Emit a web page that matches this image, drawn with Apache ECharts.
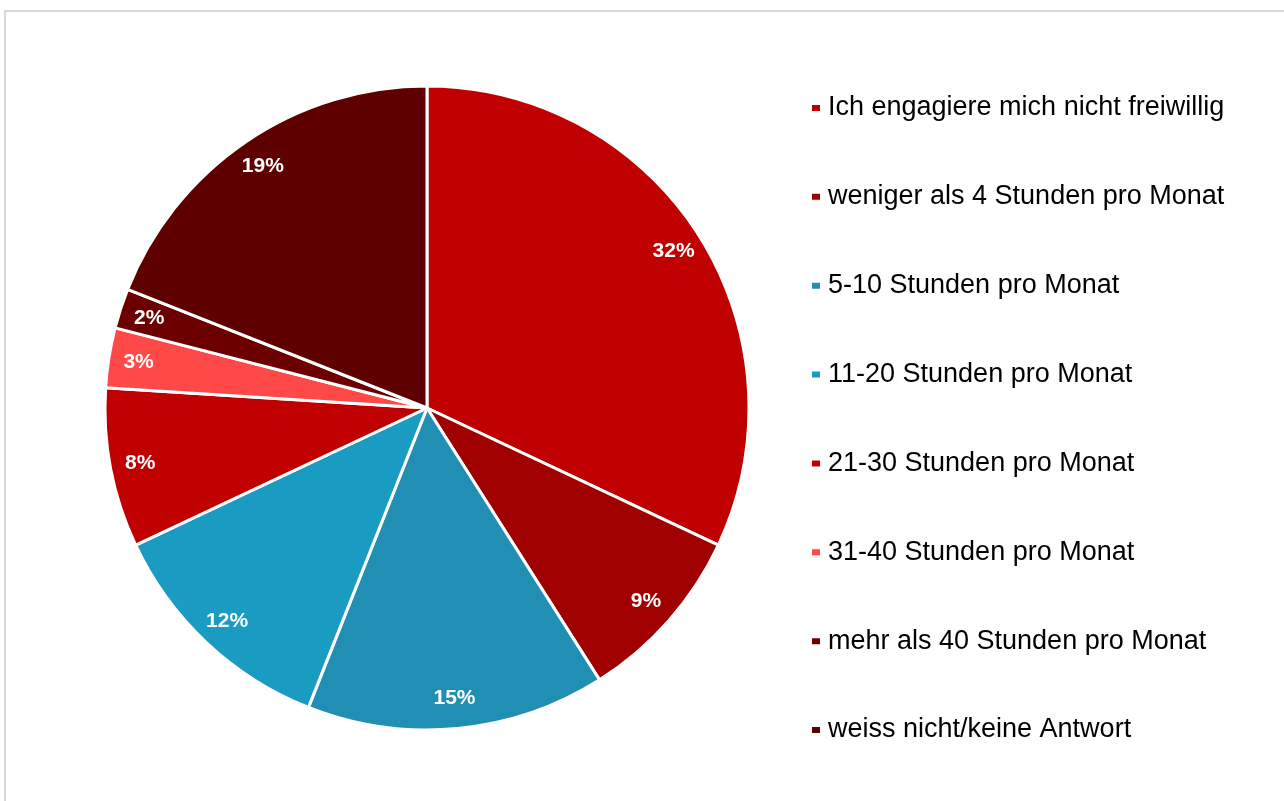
<!DOCTYPE html>
<html>
<head>
<meta charset="utf-8">
<script src="https://cdn.jsdelivr.net/npm/echarts@6/dist/echarts.min.js"></script>
<style>
  html, body { margin: 0; padding: 0; background: #fff; }
  #chart { width: 1284px; height: 801px; }
</style>
</head>
<body>
<div id="chart"></div>
<script>
// Time spent on volunteering per month (share of respondents, %)
const categories = [
  'Ich engagiere mich nicht freiwillig',
  'weniger als 4 Stunden pro Monat',
  '5-10 Stunden pro Monat',
  '11-20 Stunden pro Monat',
  '21-30 Stunden pro Monat',
  '31-40 Stunden pro Monat',
  'mehr als 40 Stunden pro Monat',
  'weiss nicht/keine Antwort'
];
const shares = [32, 9, 15, 12, 8, 3, 2, 19];
const colors = ['#C00000', '#A00000', '#218FB4', '#1A9BC1', '#C00000', '#FF4848', '#6C0000', '#5E0000'];

const FONT = '"Liberation Sans", Helvetica, Arial, sans-serif';
const center = [427, 408];
const R = 322;

const sliceData = categories.map((name, i) => ({
  name: name,
  value: shares[i],
  itemStyle: { color: colors[i] }
}));

const chart = echarts.init(document.getElementById('chart'), null, { renderer: 'canvas' });
chart.setOption({
  backgroundColor: '#ffffff',
  animation: false,
  graphic: [{
    type: 'rect',
    shape: { x: 5, y: 11, width: 1400, height: 900 },
    style: { fill: 'none', stroke: '#d9d9d9', lineWidth: 2 },
    silent: true,
    z: -10
  }],
  legend: {
    orient: 'vertical',
    left: 810,
    top: 89,
    padding: 0,
    icon: 'rect',
    itemWidth: 10,
    itemHeight: 8,
    itemGap: 50.86,
    selectedMode: false,
    data: categories,
    textStyle: {
      fontFamily: FONT,
      fontSize: 27,
      color: '#000',
      lineHeight: 30,
      // extra bottom padding lifts the text slightly above the marker
      padding: [0, 0, 8, 2]
    }
  },
  series: [
    {
      name: 'slices',
      type: 'pie',
      center: center,
      radius: [0, R],
      startAngle: 90,
      clockwise: true,
      avoidLabelOverlap: false,
      label: { show: false },
      labelLine: { show: false },
      emphasis: { disabled: true },
      itemStyle: { borderColor: '#ffffff', borderWidth: 3 },
      data: sliceData
    },
    {
      // transparent ring carrying the percentage labels near the rim
      name: 'labels',
      type: 'pie',
      center: center,
      radius: [R * 0.795, R],
      startAngle: 90,
      clockwise: true,
      silent: true,
      avoidLabelOverlap: false,
      emphasis: { disabled: true },
      itemStyle: { color: 'rgba(0,0,0,0)', borderWidth: 0 },
      labelLine: { show: false },
      label: {
        show: true,
        position: 'inside',
        formatter: '{c}%',
        color: '#ffffff',
        fontFamily: FONT,
        fontWeight: 'bold',
        fontSize: 21
      },
      data: categories.map((name, i) => ({ name: name, value: shares[i] }))
    }
  ]
});
</script>
</body>
</html>
